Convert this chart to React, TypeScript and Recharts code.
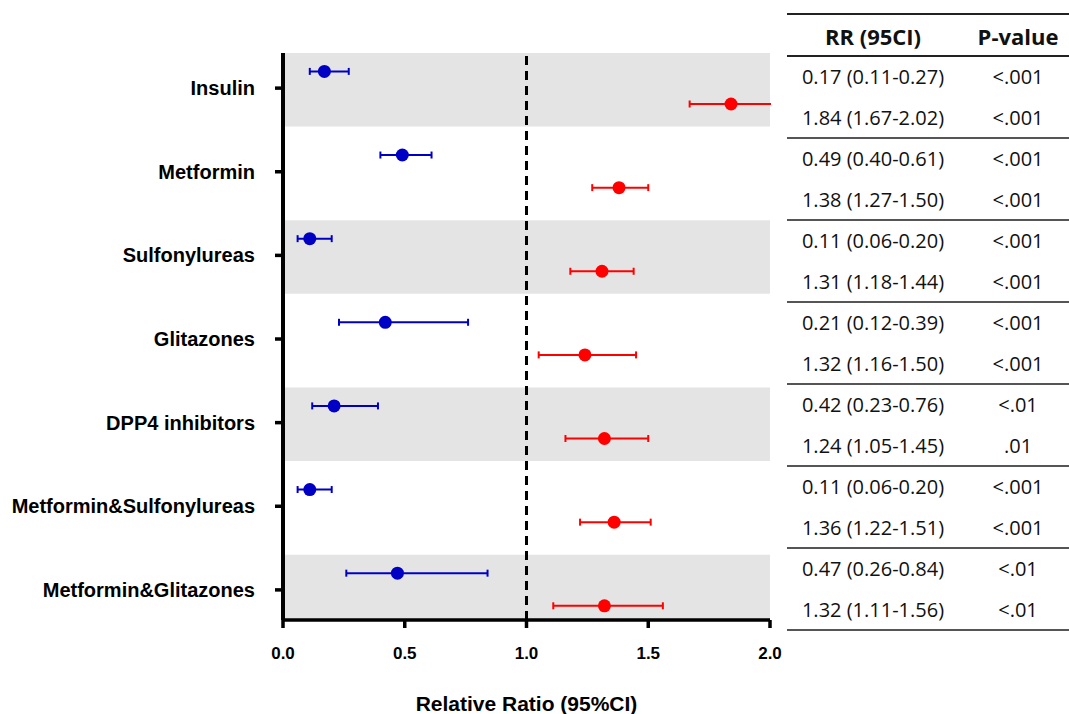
import { ScatterChart, Scatter, XAxis, YAxis, ErrorBar, ReferenceLine, ReferenceArea, Label } from "recharts";

const categories = [
  "Insulin",
  "Metformin",
  "Sulfonylureas",
  "Glitazones",
  "DPP4 inhibitors",
  "Metformin&Sulfonylureas",
  "Metformin&Glitazones",
];

// blue (lower risk) estimates as plotted
const blueEst = [0.17, 0.49, 0.11, 0.42, 0.21, 0.11, 0.47];
const blueLo = [0.11, 0.4, 0.06, 0.23, 0.12, 0.06, 0.26];
const blueHi = [0.27, 0.61, 0.2, 0.76, 0.39, 0.2, 0.84];

// red (higher risk) estimates as plotted
const redEst = [1.84, 1.38, 1.31, 1.24, 1.32, 1.36, 1.32];
const redLo = [1.67, 1.27, 1.18, 1.05, 1.16, 1.22, 1.11];
const redHi = [2.02, 1.5, 1.44, 1.45, 1.5, 1.51, 1.56];

const shadedRows = [0, 2, 4, 6];
const xTicks = [0, 0.5, 1, 1.5, 2];

// right-hand table, as printed
const tableRR = [
  "0.17 (0.11-0.27)", "1.84 (1.67-2.02)",
  "0.49 (0.40-0.61)", "1.38 (1.27-1.50)",
  "0.11 (0.06-0.20)", "1.31 (1.18-1.44)",
  "0.21 (0.12-0.39)", "1.32 (1.16-1.50)",
  "0.42 (0.23-0.76)", "1.24 (1.05-1.45)",
  "0.11 (0.06-0.20)", "1.36 (1.22-1.51)",
  "0.47 (0.26-0.84)", "1.32 (1.11-1.56)",
];
const tableP = [
  "<.001", "<.001",
  "<.001", "<.001",
  "<.001", "<.001",
  "<.001", "<.001",
  "<.01", ".01",
  "<.001", "<.001",
  "<.01", "<.01",
];

const BLUE = "#0000c4";
const RED = "#ff0000";
const SANS = "'Liberation Sans', Arial, sans-serif";
const TABLE_FONT = "'Open Sans', sans-serif";

const blueData = categories.map((c, i) => ({
  name: c,
  x: blueEst[i],
  y: i - 0.2,
  err: [blueEst[i] - blueLo[i], blueHi[i] - blueEst[i]],
}));
const redData = categories.map((c, i) => ({
  name: c,
  x: redEst[i],
  y: i + 0.19,
  err: [redEst[i] - redLo[i], redHi[i] - redEst[i]],
}));

const dot = (color: string) => (props: any) => (
  <circle cx={props.cx} cy={props.cy} r={6.5} fill={color} />
);

function ResultTable() {
  const top = 56;
  const group = 82;
  const row = 41;
  return (
    <div style={{ position: "absolute", left: 787, top: 0, width: 282, height: 714, fontFamily: TABLE_FONT, color: "#111" }}>
      <div style={{ position: "absolute", left: 0, top: 13, width: 282, height: 2, background: "#222" }} />
      <div style={{ position: "absolute", left: 0, top: 16, width: 172, height: 41, lineHeight: "41px", textAlign: "center", fontSize: 22, fontWeight: 700 }}>RR (95CI)</div>
      <div style={{ position: "absolute", left: 181, top: 16, width: 100, height: 41, lineHeight: "41px", textAlign: "center", fontSize: 22, fontWeight: 700 }}>P-value</div>
      <div style={{ position: "absolute", left: 0, top: top - 1, width: 282, height: 2, background: "#222" }} />
      {tableRR.map((t, k) => (
        <div key={`rr-${k}`}>
          <div style={{ position: "absolute", left: 0, top: top + k * row, width: 172, height: row, lineHeight: `${row}px`, textAlign: "center", fontSize: 20 }}>{t}</div>
          <div style={{ position: "absolute", left: 181, top: top + k * row, width: 100, height: row, lineHeight: `${row}px`, textAlign: "center", fontSize: 20 }}>{tableP[k]}</div>
        </div>
      ))}
      {categories.map((c, i) => (
        <div key={`ln-${c}`} style={{ position: "absolute", left: 0, top: top + (i + 1) * group - 1, width: 282, height: 1.5, background: "#555" }} />
      ))}
    </div>
  );
}

export default function App() {
  return (
    <div style={{ position: "absolute", left: 0, top: 0, width: 1069, height: 714, background: "#fff" }}>
      {/* CIs running past the axis end are cut at 2.0, as in the original */}
      <svg width={0} height={0} style={{ position: "absolute" }}>
        <defs>
          <clipPath id="ci-clip" clipPathUnits="userSpaceOnUse">
            <rect x={0} y={0} width={771} height={714} />
          </clipPath>
        </defs>
      </svg>
      <style>{`.recharts-errorBars, .recharts-errorBar { clip-path: url(#ci-clip); }`}</style>
      <ScatterChart width={790} height={714} margin={{ top: 53, right: 20, bottom: 0, left: 0 }}>
        {shadedRows.map((r) => (
          <ReferenceArea key={r} x1={0} x2={2} y1={r - 0.42} y2={r + 0.46} fill="#e4e4e4" fillOpacity={1} stroke="none" ifOverflow="hidden" />
        ))}
        <XAxis
          type="number"
          dataKey="x"
          domain={[0, 2]}
          ticks={xTicks}
          allowDataOverflow
          tickFormatter={(v: number) => v.toFixed(1)}
          height={94}
          tickSize={8}
          tickMargin={19}
          axisLine={{ stroke: "#000", strokeWidth: 3.5 }}
          tickLine={{ stroke: "#000", strokeWidth: 3.5 }}
          tick={{ fill: "#000", fontSize: 17, fontWeight: 700, fontFamily: SANS }}
        >
          <Label value="Relative Ratio (95%CI)" position="insideBottom" offset={3} fill="#000" fontSize={21} fontWeight={700} fontFamily={SANS} />
        </XAxis>
        <YAxis
          type="number"
          dataKey="y"
          domain={[-0.42, 6.36]}
          reversed
          allowDataOverflow
          ticks={categories.map((_, i) => i)}
          interval={0}
          tickFormatter={(v: number) => categories[v] ?? ""}
          width={283}
          tickSize={8}
          tickMargin={20}
          axisLine={{ stroke: "#000", strokeWidth: 4 }}
          tickLine={{ stroke: "#000", strokeWidth: 3.5 }}
          tick={{ fill: "#000", fontSize: 20, fontWeight: 700, fontFamily: SANS }}
        />
        <ReferenceLine x={1} stroke="#000" strokeWidth={3} strokeDasharray="9 6" />
        <Scatter data={blueData} fill={BLUE} shape={dot(BLUE)} isAnimationActive={false}>
          <ErrorBar dataKey="err" direction="x" width={3.5} strokeWidth={2} stroke={BLUE} />
        </Scatter>
        <Scatter data={redData} fill={RED} shape={dot(RED)} isAnimationActive={false}>
          <ErrorBar dataKey="err" direction="x" width={3.5} strokeWidth={2} stroke={RED} />
        </Scatter>
      </ScatterChart>
      <ResultTable />
    </div>
  );
}
